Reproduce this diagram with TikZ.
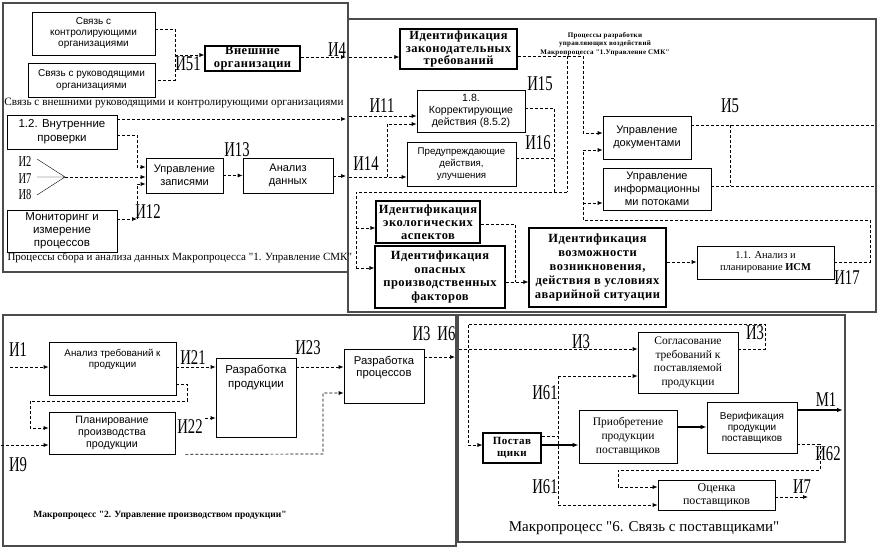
\documentclass[tikz,border=0pt]{standalone}
\usepackage{fontspec}
\setmainfont{Liberation Serif}[Ligatures=TeXOff]
\setsansfont{Liberation Sans}
\newfontfamily\lblfont[FakeStretch=0.7]{Liberation Serif}
\newfontfamily\spfont[LetterSpace=4,Ligatures=TeXOff]{Liberation Serif}
\usetikzlibrary{arrows.meta}
\newcommand\fsz[2]{\fontsize{#1}{#2}\selectfont}

\begin{document}
\begin{tikzpicture}[x=1pt,y=-1pt,
  sbox/.style 2 args={draw,line width=0.7pt,inner sep=0pt,align=center,font=\sffamily\fsz{#1}{#2}},
  ebox/.style 2 args={draw,line width=0.7pt,inner sep=0pt,align=center,font=\fsz{#1}{#2}},
  bbox/.style 2 args={draw,line width=1.1pt,inner sep=0pt,align=center,font=\spfont\bfseries\fsz{#1}{#2}},
  tl/.style 2 args={anchor=north,align=center,yshift=-4pt,font=\sffamily\fsz{#1}{#2}},
  frame/.style={draw=black!70,line width=1.2pt},
  dl/.style={dash pattern=on 3pt off 2pt,line width=0.7pt},
  da/.style={dl,-{Latex[length=5pt,width=4pt]}},
  sa/.style={line width=1.2pt,-{Latex[length=6pt,width=4.5pt]}},
  lbl/.style={inner sep=0pt,font=\lblfont\fsz{21}{21}}]
\path[use as bounding box,fill=white] (0,0) rectangle (881,550);
\draw[frame] (3,3) rectangle (348,272);
\draw[frame] (348,19) rectangle (876,312);
\draw[frame] (3,315) rectangle (456,546);
\draw[frame] (458,315) rectangle (845,542);

\node[sbox={10}{11},minimum width=123pt,minimum height=43pt] (kontr) at (93.5,33.5) {Связь с\\контролирующими\\организациями};
\node[sbox={10}{12},minimum width=127pt,minimum height=34pt] (rukov) at (91.5,80) {Связь с руководящими\\организациями};
\node[bbox={12.5}{13},minimum width=95pt,minimum height=25pt] (vnesh) at (252.5,58.5) {Внешние\\организации};
\node[font=\fsz{11.2}{12}] (cap1) at (174,103) {Связь с внешними руководящими и контролирующими организациями};
\node[sbox={11.5}{14},minimum width=110pt,minimum height=34pt] (vnutr) at (62,132) {1.2. Внутренние\\проверки};
\node[sbox={11}{13},minimum width=77pt,minimum height=35pt] (zapis) at (184.5,175.5) {Управление\\записями};
\node[sbox={11}{13},minimum width=90pt,minimum height=35pt] (analiz) at (288,175.5) {Анализ\\данных};
\node[sbox={11.5}{13},minimum width=110pt,minimum height=42pt] (monit) at (62,231) {Мониторинг и\\измерение\\процессов};
\node[anchor=west,font=\fsz{11}{12}] (cap2) at (4,258) {Процессы сбора и анализа данных Макропроцесса "1. Управление СМК"};

\draw[dl] (kontr.east|-0,29) -- (175,29) -- (175,80) -- (rukov.east);
\draw[da] (175,55) -- (vnesh.west|-0,55);
\node[lbl] (l51) at (188,64) {И51};
\coordinate (b1) at (346,57);
\draw[da] (vnesh.east|-b1) -- (b1);
\node[lbl] (l4) at (337,50) {И4};
\coordinate (b5) at (346,119);
\draw[da] (vnutr.east|-b5) -- (b5);
\draw[da] (vnutr.east|-0,135) -- (137,135) -- (137,167) -- (zapis.west|-0,167);
\coordinate (i2) at (37,159);
\coordinate (i7) at (37,177);
\coordinate (i8) at (37,195);
\coordinate (jn) at (65,177);
\draw (i2) -- (jn) -- (i8) (i7) -- (jn);
\node[lbl,font=\lblfont\fsz{15}{15}] (l2) at (25,162) {И2};
\node[lbl,font=\lblfont\fsz{15}{15}] (l7) at (25,179) {И7};
\node[lbl,font=\lblfont\fsz{15}{15}] (l8) at (25,195) {И8};
\draw[da] (jn) -- (zapis.west|-jn);
\coordinate (c12) at (137,219);
\draw[da] (monit.east|-c12) -- (c12);
\draw[da] (c12) -- (137,184) -- (zapis.west|-0,184);
\node[lbl] (l12) at (148,212) {И12};
\node[lbl] (l13) at (237,150) {И13};
\draw[da] (zapis) -- (analiz);
\coordinate (b7) at (346,176);
\draw[da] (analiz.east|-b7) -- (b7);

\node[bbox={12.5}{12.5},minimum width=117pt,minimum height=40pt] (zakon) at (458.5,49) {Идентификация\\законодательных\\требований};
\node[align=center,font=\spfont\bfseries\fsz{7}{8.5}] (ttl) at (605,44) {Процессы разработки\\управляющих воздействий\\Макропроцесса "1.Управление СМК"};
\node[sbox={10.5}{12},minimum width=108pt,minimum height=42pt] (korr) at (471,111) {1.8.\\Корректирующие\\действия (8.5.2)};
\node[sbox={9.7}{12},minimum width=109pt,minimum height=44pt] (predupr) at (461.5,164) {Предупреждающие\\действия,\\улучшения};
\node[sbox={11}{13},minimum width=88pt,minimum height=43pt] (doc) at (647,137.5) {Управление\\документами};
\node[sbox={11}{13},minimum width=108pt,minimum height=42pt] (info) at (657,189) {Управление\\информационны\\ми потоками};
\node[bbox={12.5}{13},minimum width=104pt,minimum height=42pt] (ekol) at (428,222) {Идентификация\\экологических\\аспектов};
\node[bbox={12.5}{13.5},minimum width=130pt,minimum height=62pt] (opasn) at (440,277) {Идентификация\\опасных\\производственных\\факторов};
\node[bbox={12.5}{14},minimum width=137pt,minimum height=79pt] (avar) at (597.5,267.5) {Идентификация\\возможности\\возникновения,\\действия в условиях\\аварийной ситуации};
\node[ebox={10.5}{12},minimum width=137pt,minimum height=33pt] (ism) at (765.5,262.5) {1.1. Анализ и\\планирование \textbf{ИСМ}};

\coordinate (b2) at (349,57);
\draw[da] (b2) -- (zakon.west|-b2);
\coordinate (b6) at (349,116);
\draw[da] (b6) -- (korr.west|-b6);
\node[lbl] (l11) at (382,106) {И11};
\coordinate (b8) at (349,177);
\draw[da] (b8) -- (predupr.west|-b8);
\draw[da] (387,177) -- (387,124) -- (korr.west|-0,124);
\node[lbl] (l14) at (366,164) {И14};
\draw[da] (zakon.east|-0,56) -- (583,56) -- (583,133) -- (doc.west|-0,133);
\draw[dl] (567,56) -- (567,192);
\draw[dl] (korr.east|-0,108) -- (554,108) -- (554,192);
\draw[dl] (predupr.east|-0,158) -- (554,158);
\node[lbl] (l15) at (540,84) {И15};
\node[lbl] (l16) at (538,143) {И16};
\draw[dl] (567,192) -- (356,192) -- (356,268);
\draw[da] (356,228) -- (ekol.west|-0,228);
\draw[da] (356,268) -- (opasn.west|-0,268);
\draw[dl] (ekol.east|-0,224) -- (515,224) -- (515,282);
\draw[da] (opasn.east|-0,282) -- (avar.west|-0,282);
\draw[da] (avar.east|-0,262) -- (ism.west|-0,262);
\draw[da] (ism.east|-0,262) -- (870,262) -- (870,220) -- (583,220) -- (583,150) -- (doc.west|-0,150);
\draw[da] (583,203) -- (info.west|-0,203);
\node[lbl] (l17) at (847,278) {И17};
\coordinate (e5) at (875,125);
\coordinate (e6) at (875,186);
\draw[dl] (doc.east|-e5) -- (e5);
\draw[dl] (730,125) -- (730,186);
\draw[dl] (info.east|-e6) -- (e6);
\node[lbl] (l5) at (730,106) {И5};

\node[sbox={9.8}{11},minimum width=127pt,minimum height=53pt,label={[tl={9.8}{11}]north:Анализ требований к\\продукции}] (anr) at (112.5,368.5) {};
\node[sbox={11}{13},minimum width=80pt,minimum height=79pt,label={[tl={11.5}{13.5}]north:Разработка\\продукции}] (razprod) at (256,397.5) {};
\node[sbox={11}{13},minimum width=80pt,minimum height=54pt,label={[tl={11.3}{12}]north:Разработка\\процессов}] (razproc) at (384,376) {};
\node[sbox={10.7}{12.3},minimum width=126pt,minimum height=42pt] (plan) at (112,433) {Планирование\\производства\\продукции};
\node[font=\bfseries\fsz{9.5}{10}] (cap3) at (160,515) {Макропроцесс "2. Управление производством продукции"};

\coordinate (i1) at (10,367);
\draw[da] (i1) -- (anr.west|-i1);
\node[lbl] (l1) at (18,350) {И1};
\draw[da] (anr.east|-0,367) -- (razprod.west|-0,367);
\node[lbl] (l21) at (193,358) {И21};
\draw[da] (razprod.east|-0,367) -- (razproc.west|-0,367);
\node[lbl] (l23) at (308,348) {И23};
\coordinate (b3) at (455,357);
\draw[da] (razproc.east|-b3) -- (b3);
\node[lbl] (l36) at (434,334) {И3\,\,И6};
\draw[da] (anr.east|-0,384) -- (187,384) -- (187,401) -- (30,401) -- (30,428) -- (plan.west|-0,428);
\coordinate (i9) at (1,445);
\draw[da] (i9) -- (plan.west|-i9);
\node[lbl] (l9) at (18,465) {И9};
\coordinate (i22) at (205,418);
\draw[da] (i22) -- (razprod.west|-i22);
\node[lbl] (l22) at (190,427) {И22};
\draw[da] ([xshift=10pt]plan.south east) -- (323,454) -- (323,393) -- (razproc.west|-0,393);

\node[ebox={11.5}{13.5},minimum width=100pt,minimum height=61pt] (soglas) at (688,362.5) {Согласование\\требований к\\поставляемой\\продукции};
\node[bbox={11}{11.5},minimum width=58pt,minimum height=30pt] (postav) at (512,448) {Постав\\щики};
\node[ebox={11.5}{14},minimum width=98pt,minimum height=53pt] (priob) at (628,436.5) {Приобретение\\продукции\\поставщиков};
\node[sbox={10}{11},minimum width=90pt,minimum height=51pt] (verif) at (752,427.5) {Верификация\\продукции\\поставщиков};
\node[ebox={12}{13},minimum width=117pt,minimum height=30pt] (ocenka) at (716.5,495) {Оценка\\поставщиков};
\node[font=\fsz{15}{16}] (cap4) at (644,528) {Макропроцесс "6. Связь с поставщиками"};

\coordinate (b4) at (459,349);
\draw[da] (b4) -- (soglas.west|-b4);
\node[lbl] (l3a) at (581,342) {И3};
\draw[da] (soglas.east|-0,349) -- (765,349) -- (765,324) -- (468,324) -- (468,445) -- (postav.west|-0,445);
\node[lbl] (l3b) at (755,333) {И3};
\draw[sa] (postav.east|-0,445) -- (priob.west|-0,445);
\draw[dl] (postav.east|-0,436) -- (558,436);
\draw[dl] (558,376) -- (558,505);
\draw[da] (558,376) -- (soglas.west|-0,376);
\draw[da] (558,505) -- (ocenka.west|-0,505);
\node[lbl] (l61a) at (545,393) {И61};
\node[lbl] (l61b) at (545,487) {И61};
\draw[sa] (priob.east|-0,427) -- (verif.west|-0,427);
\coordinate (m1) at (843,410);
\draw[sa] (verif.east|-m1) -- (m1);
\node[lbl] (lm1) at (826,400) {М1};
\draw[da] (verif.east|-0,444) -- (820,444) -- (820,470) -- (618,470) -- (618,487) -- (ocenka.west|-0,487);
\node[lbl] (l62) at (828,454) {И62};
\coordinate (i7o) at (808,497);
\draw[da] (ocenka.east|-i7o) -- (i7o);
\node[lbl] (l7o) at (802,487) {И7};
\end{tikzpicture}
\end{document}
